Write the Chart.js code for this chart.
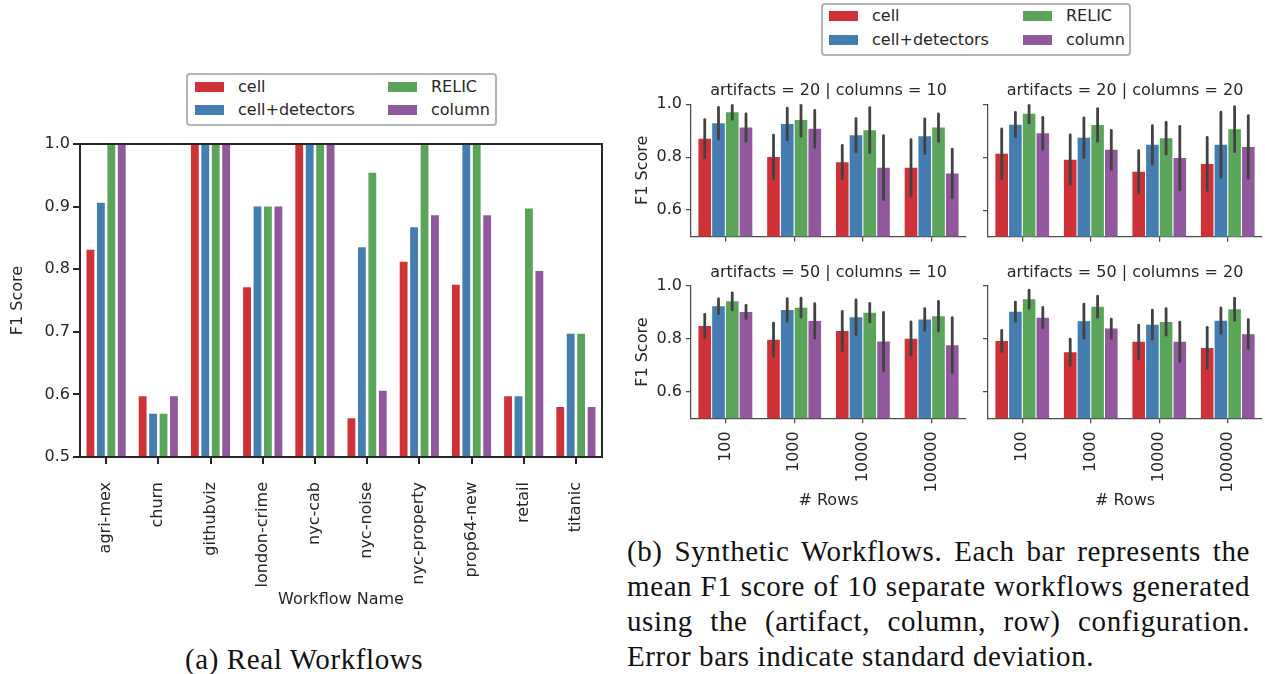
<!DOCTYPE html>
<html>
<head>
<meta charset="utf-8">
<script src="https://cdn.jsdelivr.net/npm/chart.js"></script>
<style>
body { margin: 0; background: #fff; }
#page { position: relative; width: 1265px; height: 674px; overflow: hidden; background: #fff; font-family: 'DejaVu Sans', sans-serif; color: #262626; }
.plot { position: absolute; }
.legend { position: absolute; box-sizing: border-box; border: 2px solid #b3b3b3; border-radius: 4px; background: #fff; }
.legend .sw { position: absolute; width: 29px; height: 10px; }
.legend .lb { position: absolute; font-size: 16px; line-height: 20px; white-space: nowrap; }
.cap { position: absolute; font-family: 'Liberation Serif', serif; font-size: 29px; line-height: 35px; color: #111; letter-spacing: 0.6px; }
.cap .ln { text-align: justify; text-align-last: justify; white-space: nowrap; }
.cap .ln.last { text-align: left; text-align-last: left; }
</style>
</head>
<body>
<div id="page">
  <canvas id="real" class="plot"></canvas>
  <canvas id="a20c10" class="plot"></canvas>
  <canvas id="a20c20" class="plot"></canvas>
  <canvas id="a50c10" class="plot"></canvas>
  <canvas id="a50c20" class="plot"></canvas>
  <div id="legendReal" class="legend"></div>
  <div id="legendSynth" class="legend"></div>
  <div class="cap" style="left:185px; top:642px;">(a) Real Workflows</div>
  <div class="cap" style="left:627px; top:534px; width:623px;">
    <div class="ln">(b) Synthetic Workflows. Each bar represents the</div>
    <div class="ln">mean F1 score of 10 separate workflows generated</div>
    <div class="ln">using the (artifact, column, row) configuration.</div>
    <div class="ln last">Error bars indicate standard deviation.</div>
  </div>
</div>
<script>
const seriesNames = ['cell', 'cell+detectors', 'RELIC', 'column'];
const seriesColors = ['#ce3236', '#467db0', '#5ba55a', '#91589d'];

// (a) real workflows
const workflows = ['agri-mex', 'churn', 'githubviz', 'london-crime', 'nyc-cab', 'nyc-noise', 'nyc-property', 'prop64-new', 'retail', 'titanic'];
const realCell = [0.831, 0.597, 1.0, 0.771, 1.0, 0.562, 0.812, 0.775, 0.597, 0.580];
const realCellDetectors = [0.906, 0.569, 1.0, 0.900, 1.0, 0.835, 0.867, 1.0, 0.597, 0.697];
const realRelic = [1.0, 0.569, 1.0, 0.900, 1.0, 0.954, 1.0, 1.0, 0.897, 0.697];
const realColumn = [1.0, 0.597, 1.0, 0.900, 1.0, 0.606, 0.886, 0.886, 0.797, 0.580];
const realYTicks = [0.5, 0.6, 0.7, 0.8, 0.9, 1.0];

// (b) synthetic workflows, rows are cell, cell+detectors, RELIC, column
const rowCounts = ['100', '1000', '10000', '100000'];
const synthYTicks = [0.6, 0.8, 1.0];

const a20c10Mean = [[0.870, 0.801, 0.781, 0.760], [0.928, 0.925, 0.883, 0.879], [0.970, 0.941, 0.902, 0.912], [0.912, 0.907, 0.760, 0.738]];
const a20c10Sd = [[0.072, 0.082, 0.063, 0.106], [0.060, 0.060, 0.063, 0.066], [0.027, 0.062, 0.085, 0.052], [0.052, 0.070, 0.121, 0.092]];

const a20c20Mean = [[0.813, 0.791, 0.745, 0.775], [0.923, 0.874, 0.847, 0.847], [0.964, 0.922, 0.872, 0.906], [0.891, 0.828, 0.797, 0.839]];
const a20c20Sd = [[0.094, 0.093, 0.080, 0.100], [0.046, 0.075, 0.072, 0.123], [0.034, 0.062, 0.060, 0.085], [0.060, 0.073, 0.120, 0.118]];

const a50c10Mean = [[0.849, 0.797, 0.830, 0.801], [0.923, 0.909, 0.882, 0.873], [0.942, 0.918, 0.899, 0.886], [0.902, 0.868, 0.790, 0.776]];
const a50c10Sd = [[0.044, 0.063, 0.074, 0.063], [0.028, 0.043, 0.065, 0.041], [0.032, 0.036, 0.035, 0.056], [0.025, 0.065, 0.110, 0.104]];

const a50c20Mean = [[0.792, 0.750, 0.789, 0.766], [0.903, 0.867, 0.854, 0.869], [0.950, 0.922, 0.864, 0.912], [0.880, 0.839, 0.789, 0.818]];
const a50c20Sd = [[0.040, 0.049, 0.063, 0.078], [0.036, 0.064, 0.055, 0.048], [0.034, 0.040, 0.050, 0.042], [0.039, 0.036, 0.074, 0.055]];

Chart.defaults.font.family = "'DejaVu Sans', sans-serif";
Chart.defaults.font.size = 16;
Chart.defaults.color = '#262626';

// vertical error bars on top of each bar
const errorBars = {
    id: 'errorBars',
    afterDatasetsDraw(chart) {
        const {ctx, chartArea} = chart;
        const yScale = chart.scales.y;
        ctx.save();
        ctx.beginPath();
        ctx.rect(chartArea.left, chartArea.top, chartArea.width, chartArea.height);
        ctx.clip();
        ctx.strokeStyle = '#424242';
        ctx.lineWidth = 2.8;
        ctx.lineCap = 'round';
        chart.data.datasets.forEach((ds, di) => {
            if (!ds.errors) return;
            chart.getDatasetMeta(di).data.forEach((bar, i) => {
                const v = ds.data[i];
                const e = ds.errors[i];
                ctx.beginPath();
                ctx.moveTo(bar.x, yScale.getPixelForValue(v - e));
                ctx.lineTo(bar.x, yScale.getPixelForValue(v + e));
                ctx.stroke();
            });
        });
        ctx.restore();
    },
};

// facet title centred over the plot area
const panelTitle = {
    id: 'panelTitle',
    afterDraw(chart, args, opts) {
        if (!opts.text) return;
        const {ctx, chartArea} = chart;
        ctx.save();
        ctx.font = "16px 'DejaVu Sans', sans-serif";
        ctx.fillStyle = '#262626';
        ctx.textAlign = 'center';
        ctx.textBaseline = 'middle';
        ctx.fillText(opts.text, (chartArea.left + chartArea.right) / 2, chartArea.top - 13);
        ctx.restore();
    },
};

// closed box around the real-workflow axes
const frame = {
    id: 'frame',
    afterDraw(chart, args, opts) {
        if (!opts.show) return;
        const {ctx, chartArea} = chart;
        ctx.save();
        ctx.strokeStyle = '#262626';
        ctx.lineWidth = 2;
        ctx.strokeRect(chartArea.left, chartArea.top, chartArea.width, chartArea.height);
        ctx.restore();
    },
};

const setBox = (canvas, box) => {
    canvas.width = box.w;
    canvas.height = box.h;
    canvas.style.left = box.x + 'px';
    canvas.style.top = box.y + 'px';
    canvas.style.width = box.w + 'px';
    canvas.style.height = box.h + 'px';
};

const makeChart = (id, box, plot, opts) => {
    const canvas = document.getElementById(id);
    setBox(canvas, box);
    const yWidth = plot.left - box.x;
    const xHeight = box.y + box.h - plot.bottom;
    const axisColor = opts.axisColor;
    const axisWidth = opts.axisWidth;

    return new Chart(canvas, {
        type: 'bar',
        data: {labels: opts.labels, datasets: opts.datasets},
        plugins: [errorBars, panelTitle, frame],
        options: {
            responsive: false,
            animation: false,
            devicePixelRatio: 1,
            layout: {padding: {left: 0, top: plot.top - box.y, right: box.x + box.w - plot.right, bottom: 0}},
            plugins: {
                legend: {display: false},
                tooltip: {enabled: false},
                panelTitle: {text: opts.title},
                frame: {show: !!opts.frame},
            },
            scales: {
                x: {
                    offset: true,
                    grid: {drawOnChartArea: false, offset: false, tickLength: opts.tickLength, color: axisColor, lineWidth: axisWidth},
                    border: {color: axisColor, width: axisWidth},
                    ticks: {display: opts.xLabels, autoSkip: false, minRotation: 90, maxRotation: 90, padding: opts.xPad},
                    title: {display: !!opts.xTitle, text: opts.xTitle, padding: {top: 0, bottom: opts.xTitlePad}},
                    afterFit: (s) => { s.height = xHeight; },
                },
                y: {
                    min: 0.5,
                    max: 1.0,
                    afterBuildTicks: (s) => { s.ticks = opts.yTicks.map((v) => ({value: v})); },
                    grid: {drawOnChartArea: false, tickLength: opts.tickLength, color: axisColor, lineWidth: axisWidth},
                    border: {color: axisColor, width: axisWidth},
                    ticks: {display: opts.yLabels, padding: opts.yPad, callback: (v) => Number(v).toFixed(1)},
                    title: {display: !!opts.yTitle, text: opts.yTitle, padding: {top: opts.yTitlePad, bottom: 0}},
                    afterFit: (s) => { s.width = yWidth; },
                },
            },
        },
    });
};

// (a)
const realSeries = [realCell, realCellDetectors, realRelic, realColumn];
makeChart('real', {x: 0, y: 130, w: 620, h: 490}, {left: 80, top: 144, right: 602, bottom: 457}, {
    labels: workflows,
    datasets: realSeries.map((d, i) => ({
        label: seriesNames[i], data: d, backgroundColor: seriesColors[i],
        borderWidth: 0, barPercentage: 0.75, categoryPercentage: 0.8,
    })),
    axisColor: '#262626', axisWidth: 2, tickLength: 7,
    xLabels: true, xPad: 18, xTitle: 'Workflow Name', xTitlePad: 11,
    yLabels: true, yPad: 3, yTitle: 'F1 Score', yTitlePad: 8, yTicks: realYTicks,
    frame: true,
});

// (b)
const synthPanel = (id, title, means, sds, box, plot, left, bottom) => {
    makeChart(id, box, plot, {
        labels: rowCounts,
        datasets: means.map((d, i) => ({
            label: seriesNames[i], data: d, errors: sds[i], backgroundColor: seriesColors[i],
            borderWidth: 0, barPercentage: 0.92, categoryPercentage: 0.8,
        })),
        title: title,
        axisColor: '#4d4d4d', axisWidth: 1.25, tickLength: 5,
        xLabels: bottom, xPad: 8, xTitle: bottom ? '# Rows' : '', xTitlePad: 12,
        yLabels: left, yPad: 4, yTitle: left ? 'F1 Score' : '', yTitlePad: 8, yTicks: synthYTicks,
    });
};

synthPanel('a20c10', 'artifacts = 20 | columns = 10', a20c10Mean, a20c10Sd,
    {x: 625, y: 70, w: 350, h: 180}, {left: 691, top: 104.3, right: 966, bottom: 236.7}, true, false);
synthPanel('a20c20', 'artifacts = 20 | columns = 20', a20c20Mean, a20c20Sd,
    {x: 975, y: 70, w: 290, h: 180}, {left: 988, top: 104.3, right: 1262, bottom: 236.7}, false, false);
synthPanel('a50c10', 'artifacts = 50 | columns = 10', a50c10Mean, a50c10Sd,
    {x: 625, y: 252, w: 350, h: 270}, {left: 691, top: 286, right: 966, bottom: 418.3}, true, true);
synthPanel('a50c20', 'artifacts = 50 | columns = 20', a50c20Mean, a50c20Sd,
    {x: 975, y: 252, w: 290, h: 270}, {left: 988, top: 286, right: 1262, bottom: 418.3}, false, true);

// legends, two columns: cell / cell+detectors, then RELIC / column
const buildLegend = (id, box, rows, swX, colStep, textGap) => {
    const el = document.getElementById(id);
    el.style.left = box.x + 'px';
    el.style.top = box.y + 'px';
    el.style.width = box.w + 'px';
    el.style.height = box.h + 'px';
    seriesNames.forEach((name, i) => {
        const col = Math.floor(i / 2);
        const row = i % 2;
        const sw = document.createElement('div');
        sw.className = 'sw';
        sw.style.background = seriesColors[i];
        sw.style.left = (swX + col * colStep) + 'px';
        sw.style.top = (rows[row] - 5) + 'px';
        el.appendChild(sw);
        const lb = document.createElement('div');
        lb.className = 'lb';
        lb.textContent = name;
        lb.style.left = (swX + col * colStep + 29 + textGap) + 'px';
        lb.style.top = (rows[row] - 10) + 'px';
        el.appendChild(lb);
    });
};

buildLegend('legendReal', {x: 186, y: 73, w: 311, h: 53}, [12, 35], 7, 193, 14);
buildLegend('legendSynth', {x: 821, y: 3, w: 310, h: 53}, [11, 35], 6, 194, 14);
</script>
</body>
</html>
